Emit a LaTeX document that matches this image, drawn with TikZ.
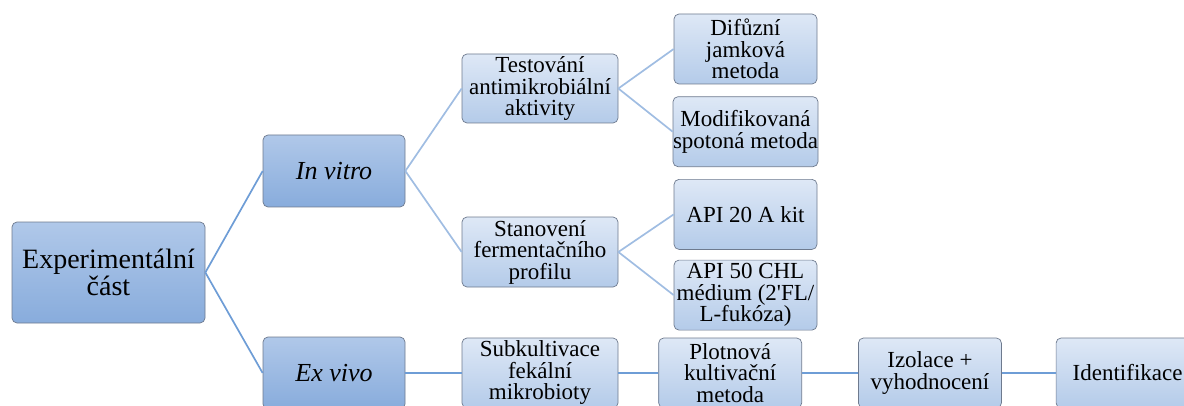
\documentclass[tikz,border=0pt]{standalone}
\usepackage{fontspec}
\setmainfont{Liberation Serif}[Ligatures=TeX]
\newfontfamily\boxfont{Liberation Serif}
\usepackage{xcolor}
\usepackage{tikz}
\usetikzlibrary{positioning}
\definecolor{roottop}{RGB}{176,200,233}
\definecolor{rootfill}{RGB}{136,172,220}
\definecolor{leaftop}{RGB}{222,232,246}
\definecolor{leaffill}{RGB}{180,203,233}
\definecolor{boxline}{RGB}{110,122,142}
\definecolor{mainlink}{RGB}{110,157,214}
\definecolor{sublink}{RGB}{160,189,226}

\begin{document}
\begin{tikzpicture}[x=1pt, y=1pt,
    card/.style={draw=boxline, line width=0.7pt, rounded corners=5pt,
                 align=center, inner sep=0pt},
    rootcard/.style={card, top color=roottop, bottom color=rootfill,
                     minimum width=142pt, minimum height=72pt,
                     font=\boxfont\fontsize{26}{26}\selectfont\itshape},
    leafcard/.style={card, top color=leaftop, bottom color=leaffill,
                     minimum width=143pt, minimum height=70pt,
                     font=\boxfont\fontsize{23}{21.5}\selectfont},
    midcard/.style={leafcard, minimum width=156pt},
    mainline/.style={draw=mainlink, line width=1.7pt},
    subline/.style={draw=sublink, line width=1.7pt}]
  \clip (0,0) rectangle (1184,405);

  \node[card, top color=roottop, bottom color=rootfill,
        minimum width=193pt, minimum height=101pt,
        font=\boxfont\fontsize{28}{27}\selectfont] (exp) at (108.5,132.5)
        {Experimentální\\část};

  \node[rootcard] (invitro) at (334,234) {In vitro};
  \node[rootcard] (exvivo) at (334,32) {Ex vivo};

  \node[midcard, minimum height=69pt] (test) at (540,316.5)
        {Testování\\antimikrobiální\\aktivity};
  \node[midcard] (stan) at (540,153) {Stanovení\\fermentačního\\profilu};

  \node[leafcard] (dif) at (745.5,356) {Difůzní\\jamková\\metoda};
  \node[leafcard, below=12pt of dif] (mod) {Modifikovaná\\spotoná metoda};
  \node[leafcard, below=12pt of mod] (api20) {API 20 A kit};
  \node[leafcard, below=10pt of api20] (api50)
        {API 50 CHL\\médium (2\textquotesingle FL/\\L-fukóza)};

  \node[midcard] (sub) at (540,32) {Subkultivace\\fekální\\mikrobioty};
  \node[leafcard, right=40pt of sub] (plot) {Plotnová\\kultivační\\metoda};
  \node[leafcard, right=56pt of plot] (izol) {Izolace +\\vyhodnocení};
  \node[leafcard, right=54pt of izol] (ident) {Identifikace};

  \draw[mainline] (exp.east) -- (invitro.west);
  \draw[mainline] (exp.east) -- (exvivo.west);
  \draw[subline] (invitro.east) -- (test.west);
  \draw[subline] (invitro.east) -- (stan.west);
  \draw[subline] (test.east) -- (dif.west);
  \draw[subline] (test.east) -- (mod.west);
  \draw[subline] (stan.east) -- (api20.west);
  \draw[subline] (stan.east) -- (api50.west);
  \draw[mainline] (exvivo) -- (sub);
  \draw[mainline] (sub) -- (plot);
  \draw[mainline] (plot) -- (izol);
  \draw[mainline] (izol) -- (ident);
\end{tikzpicture}
\end{document}
